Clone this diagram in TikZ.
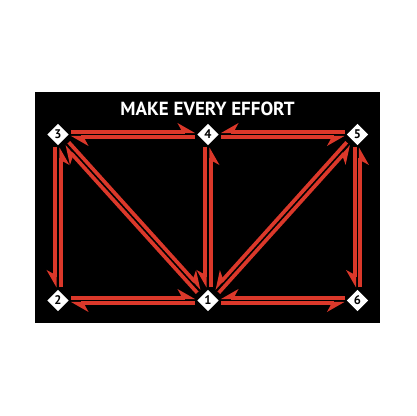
\documentclass[tikz,border=0pt]{standalone}
\usepackage{fontspec}
\setmainfont{PT Sans}
\usetikzlibrary{arrows.meta,shapes.geometric,calc}
\definecolor{effortred}{RGB}{219,56,42}

\begin{document}
\begin{tikzpicture}[x=1pt,y=1pt,line width=3.7pt,shorten >=13pt,shorten <=13pt]
  \tikzstyle{spot}=[diamond,fill=white,inner sep=0pt,minimum size=23pt,font=\bfseries\fontsize{12.5}{12.5}\selectfont]
  \tikzstyle{harpL}=[effortred,-{Stealth[harpoon,length=15pt,width=17pt,inset=4.5pt]}]
  \tikzstyle{harpR}=[effortred,-{Stealth[harpoon,swap,length=15pt,width=17pt,inset=4.5pt]}]

  \useasboundingbox (0,0) rectangle (416,416);
  \fill[black] (35,93) rectangle (380,324);

  \node[white,font=\bfseries\fontsize{19}{19}\selectfont] (title) at (207.5,307) {MAKE EVERY EFFORT};

  \node[spot] (n3) at (58,281.5) {3};
  \node[spot] (n4) at (208,281.5) {4};
  \node[spot] (n5) at (357.5,281.5) {5};
  \node[spot] (n2) at (58,115.5) {2};
  \node[spot] (n1) at (208,115.5) {1};
  \node[spot] (n6) at (357.5,115.5) {6};

  % each link: two harpoons, one each way
  \foreach \a/\b/\p/\m/\hs in {n3/n4/90/-90/harpL, n2/n1/90/-90/harpL, n1/n3/90/-90/harpL,
      n4/n5/-90/90/harpR, n1/n6/-90/90/harpR, n1/n5/-90/90/harpR,
      n3/n2/-90/90/harpR, n4/n1/-90/90/harpR, n5/n6/-90/90/harpR}
  {
    \draw[\hs] ($(\a.center)!2.8pt!\p:(\b.center)$) -- ($(\b.center)!2.8pt!\m:(\a.center)$);
    \draw[\hs] ($(\b.center)!2.8pt!\p:(\a.center)$) -- ($(\a.center)!2.8pt!\m:(\b.center)$);
  }
\end{tikzpicture}
\end{document}
